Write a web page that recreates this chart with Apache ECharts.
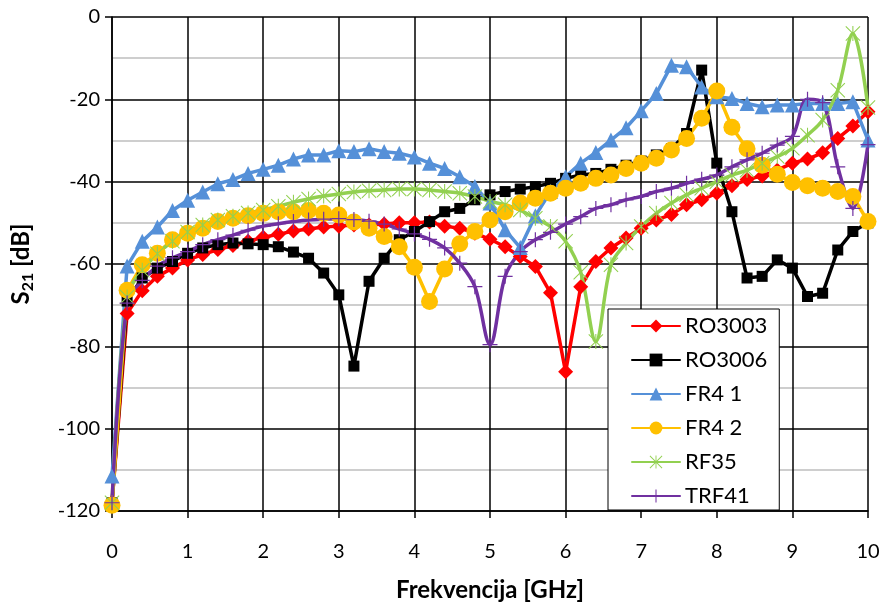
<!DOCTYPE html>
<html>
<head>
<meta charset="utf-8">
<script src="https://cdn.jsdelivr.net/npm/echarts@6/dist/echarts.min.js"></script>
<style>
  html, body { margin: 0; background: #fff; }
  #chart { width: 886px; height: 607px; }
</style>
</head>
<body>
<div id="chart"></div>
<script>
// measured S21 in dB, sampled every 0.2 GHz
const freqGHz = [0, 0.2, 0.4, 0.6, 0.8, 1, 1.2, 1.4, 1.6, 1.8, 2, 2.2, 2.4, 2.6, 2.8, 3, 3.2, 3.4, 3.6, 3.8,
  4, 4.2, 4.4, 4.6, 4.8, 5, 5.2, 5.4, 5.6, 5.8, 6, 6.2, 6.4, 6.6, 6.8, 7, 7.2, 7.4, 7.6, 7.8,
  8, 8.2, 8.4, 8.6, 8.8, 9, 9.2, 9.4, 9.6, 9.8, 10];

const ro3003 = [-118, -72, -66.5, -63, -61, -59, -57.7, -56.5, -55.5, -54.5, -53.5, -52.8, -52, -51.5, -51, -50.8, -50.5, -50.5, -50.3, -50,
  -50, -49.8, -50.8, -51.3, -52.5, -54, -55.8, -58.2, -60.6, -67, -86.2, -65.5, -59.4, -56.1, -53.7, -51.3, -49.3, -48, -45.6, -44.4,
  -42.8, -41, -39.5, -38.6, -37.2, -35.5, -34.5, -33, -29.5, -26.5, -23];

const ro3006 = [-118, -69, -63.4, -61, -59.4, -57.4, -56.1, -55.3, -54.9, -55.1, -55.3, -55.8, -57.1, -58.6, -62.2, -67.5, -84.8, -64.2, -58.6, -54.1,
  -52.1, -49.7, -47.3, -46.5, -44.4, -43.2, -42.4, -41.8, -41.2, -40.4, -39.2, -38.4, -38, -37, -36, -35, -33.5, -32, -28.3, -12.9,
  -35.5, -47.3, -63.4, -63, -59, -61, -67.9, -67.1, -56.6, -52.1, -50];

const fr4_1 = [-111.5, -60.5, -54.5, -51, -47, -44.5, -42.5, -40.5, -39.5, -38, -37, -36, -34.5, -33.5, -33.5, -32.5, -32.7, -32, -32.7, -33.1,
  -34, -35.5, -36.8, -38.8, -41.2, -45.2, -51.7, -56, -48.3, -42.4, -38.8, -35.5, -32.9, -29.9, -26.9, -22.8, -18.6, -11.7, -12.1, -17,
  -19.4, -19.8, -21, -21.8, -21.4, -21.4, -21, -21, -21, -20.6, -29.9];

const fr4_2 = [-118.6, -66.4, -60.2, -57.4, -54.1, -52.5, -51.3, -49.7, -48.9, -48.3, -47.7, -47.3, -47.3, -47, -47.7, -48.1, -49.8, -51.3, -53.3, -55.8,
  -60.8, -69.1, -61.2, -55.1, -52.1, -49.3, -47.3, -45.2, -44, -42.8, -41.6, -40.4, -39.2, -38.4, -36.8, -35.5, -34.3, -32.3, -29.5, -24.6,
  -18, -26.8, -32, -36, -38.2, -40.2, -41, -41.6, -42.4, -43.6, -49.7];

const rf35 = [-118, -68, -61.5, -57.5, -54.5, -52.2, -50.5, -49.3, -48.4, -47.6, -46.9, -46, -45, -44.2, -43.5, -43, -42.5, -42.2, -42, -41.8,
  -41.8, -42, -42.4, -42.8, -43.6, -44.8, -45.6, -46.9, -48.9, -50.9, -54.5, -62, -78.8, -60.2, -54.9, -50.9, -47.7, -45.2, -43.2, -41.6,
  -40, -38.4, -37.2, -35.5, -33.9, -31.9, -28.7, -25, -17.8, -4, -22];

const trf41 = [-118, -69.5, -64, -60.5, -58.5, -57, -55.3, -54.1, -53, -51.8, -50.8, -50.2, -49.7, -49.3, -49.1, -49, -49.2, -49.6, -50.3, -51.5,
  -52.7, -54, -56.1, -59.8, -65.5, -79.6, -63, -57, -54.1, -52.3, -50.3, -48.5, -46.5, -45.6, -44.4, -43.6, -42.4, -41.6, -40.4, -39.4,
  -38.4, -36.4, -34.7, -33.1, -31.1, -29, -20, -20.8, -36.4, -46.5, -31];

const yTicks = [-120, -100, -80, -60, -40, -20, 0];

const chartDom = document.getElementById('chart');
const myChart = echarts.init(chartDom);
const font = 'Lato, "Open Sans", sans-serif';

// thin-stroke markers built as filled paths
const starPath = 'path://M0,1L1,0L20,19L19,20Z M19,0L20,1L1,20L0,19Z M9.3,0H10.7V20H9.3Z';
const plusPath = 'path://M9.2,0H10.8V20H9.2Z M0,9.2H20V10.8H0Z';

function lineSeries(name, values, color, symbol, size, smooth) {
  return {
    name: name,
    type: 'line',
    data: freqGHz.map((f, i) => [f, values[i]]),
    symbol: symbol,
    symbolSize: size,
    showAllSymbol: true,
    smooth: smooth,
    lineStyle: { color: color, width: 3.5, cap: 'round', join: 'round' },
    itemStyle: { color: color, borderWidth: 0 },
    emphasis: { disabled: true },
    animation: false
  };
}

const option = {
  backgroundColor: '#fff',
  textStyle: { fontFamily: font },
  grid: { left: 112, right: 18, top: 17, bottom: 95 },
  legend: {
    orient: 'vertical',
    left: 608,
    top: 309,
    padding: [6, 12, 3, 23],
    itemGap: 12,
    itemWidth: 48,
    itemHeight: 16,
    backgroundColor: '#fff',
    borderColor: '#000',
    borderWidth: 1,
    textStyle: { fontFamily: font, fontSize: 22, color: '#000', lineHeight: 22 },
    data: ['RO3003', 'RO3006', 'FR4 1', 'FR4 2', 'RF35', 'TRF41']
  },
  xAxis: {
    type: 'value',
    min: 0,
    max: 10,
    interval: 1,
    name: 'Frekvencija [GHz]',
    nameLocation: 'middle',
    nameGap: 67,
    nameTextStyle: { fontFamily: font, fontSize: 24, fontWeight: 'bold', color: '#000' },
    axisLine: { onZero: false, lineStyle: { color: '#000', width: 1.5 } },
    axisTick: { show: true, length: 7, lineStyle: { color: '#000', width: 1.5 } },
    axisLabel: { margin: 31, fontSize: 20, color: '#000', fontFamily: font },
    splitLine: { show: true, lineStyle: { color: '#000', width: 1.5 } }
  },
  yAxis: {
    type: 'value',
    min: yTicks[0],
    max: yTicks[yTicks.length - 1],
    interval: 20,
    name: '{b|S}{s|21}{b| [dB]}',
    nameLocation: 'middle',
    nameGap: 76,
    nameRotate: 90,
    nameTextStyle: {
      rich: {
        b: { fontFamily: font, fontSize: 24, fontWeight: 'bold', color: '#000', lineHeight: 30, verticalAlign: 'middle' },
        s: { fontFamily: font, fontSize: 16, fontWeight: 'bold', color: '#000', lineHeight: 30, verticalAlign: 'bottom' }
      }
    },
    axisLine: { show: true, lineStyle: { color: '#000', width: 1.5 } },
    axisTick: { show: true, length: 7, lineStyle: { color: '#000', width: 1.5 } },
    axisLabel: { margin: 12, fontSize: 20, color: '#000', fontFamily: font },
    splitLine: { show: true, lineStyle: { color: '#000', width: 1.5 } },
    minorTick: { show: false, splitNumber: 2 },
    minorSplitLine: { show: true, lineStyle: { color: '#bfbfbf', width: 1.5 } }
  },
  series: [
    lineSeries('RO3003', ro3003, '#ff0000', 'diamond', 15, false),
    lineSeries('RO3006', ro3006, '#000000', 'rect', 11, false),
    lineSeries('FR4 1', fr4_1, '#5590d8', 'triangle', 15, false),
    lineSeries('FR4 2', fr4_2, '#ffc000', 'circle', 17, false),
    lineSeries('RF35', rf35, '#92d050', starPath, 15, 0.35),
    lineSeries('TRF41', trf41, '#7030a0', plusPath, 15, 0.35)
  ]
};

option && myChart.setOption(option);
window.addEventListener('resize', function () {
  myChart.resize();
});
</script>
</body>
</html>
